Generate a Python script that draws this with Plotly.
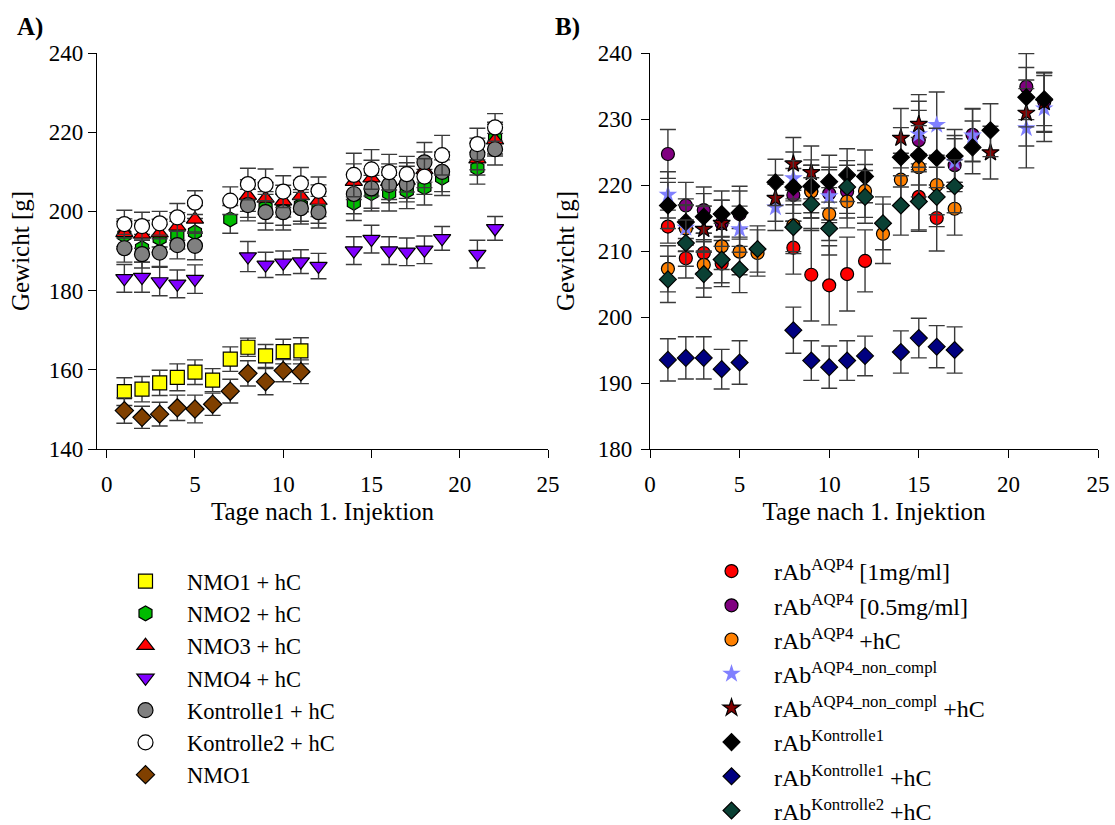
import plotly.graph_objects as go

# ---------------- Panel A data ----------------
days_nmo1 = [1, 2, 3, 4, 5, 6, 7, 8, 9, 10, 11]
nmo1_hc = [154.5, 155.1, 156.7, 158.1, 159.4, 157.4, 162.7, 165.7, 163.5, 164.6, 164.8]
nmo1_hc_err = [3.5, 3.2, 3.2, 3.4, 3.1, 2.9, 3.1, 2.3, 2.9, 3.1, 3.3]
nmo1 = [149.7, 148.0, 148.8, 150.4, 150.1, 151.3, 154.6, 159.1, 157.0, 159.8, 159.5]
nmo1_err = [3.2, 2.8, 3.0, 3.2, 3.5, 2.8, 3.0, 3.2, 3.3, 2.8, 3.0]

days_nmo2 = [1, 2, 3, 4, 5, 7, 8, 9, 10, 11, 12, 14, 15, 16, 17, 18, 19, 21, 22]
nmo2_hc = [194.0, 190.7, 193.2, 194.0, 194.7, 198.0, 202.5, 201.0, 200.5, 201.5, 201.0,
           202.2, 204.6, 204.6, 205.2, 206.1, 208.5, 210.9, 218.5]
nmo2_hc_err = [3.5, 3.5, 3.5, 3.5, 3.5, 3.5, 4.0, 4.0, 4.0, 4.0, 4.0,
               4.5, 4.5, 4.5, 4.5, 4.5, 4.5, 4.0, 4.0]

days_nmo3 = [1, 2, 3, 4, 5, 8, 9, 10, 11, 12, 14, 15, 16, 17, 18, 21, 22]
nmo3_hc = [194.6, 194.2, 194.5, 196.2, 198.0, 204.0, 203.3, 202.6, 203.9, 202.7,
           207.5, 208.4, 207.5, 207.8, 210.5, 213.2, 218.0]
nmo3_hc_err = [3.5, 3.5, 3.5, 3.5, 3.5, 4.0, 4.0, 4.0, 4.0, 4.0,
               4.5, 4.5, 4.5, 4.5, 4.5, 4.0, 4.0]

days_nmo4 = [1, 2, 3, 4, 5, 8, 9, 10, 11, 12, 14, 15, 16, 17, 18, 19, 21, 22]
nmo4_hc = [183.1, 183.4, 182.3, 181.7, 182.9, 188.6, 186.5, 187.0, 187.3, 186.2,
           190.1, 193.0, 190.1, 189.8, 190.3, 193.2, 189.2, 195.7]
nmo4_hc_err = [3.5, 3.8, 3.6, 3.5, 3.6, 3.8, 3.2, 3.0, 3.0, 3.2,
               3.5, 3.5, 3.5, 3.5, 3.5, 3.0, 3.5, 3.0]

days_k1 = [1, 2, 3, 4, 5, 8, 9, 10, 11, 12, 14, 15, 16, 17, 18, 19, 21, 22]
kontrolle1_hc = [190.7, 189.2, 189.6, 191.5, 191.3, 201.6, 199.8, 199.8, 200.8, 199.8,
                 204.4, 205.8, 206.7, 206.9, 212.4, 210.0, 214.5, 215.7]
kontrolle1_hc_err = [3.5, 3.5, 3.5, 3.5, 3.5, 4.0, 4.5, 4.5, 4.0, 4.0,
                     5.0, 5.0, 4.5, 4.5, 5.0, 5.0, 4.0, 4.0]

days_k2 = [1, 2, 3, 4, 5, 7, 8, 9, 10, 11, 12, 14, 15, 16, 17, 18, 19, 21, 22]
kontrolle2_hc = [196.8, 196.3, 197.0, 198.5, 202.2, 202.7, 206.9, 206.7, 205.0, 207.1, 205.2,
                 209.2, 210.6, 209.9, 209.4, 208.8, 214.2, 217.0, 221.2]
kontrolle2_hc_err = [3.5, 3.5, 3.0, 3.5, 3.0, 3.5, 4.0, 4.0, 4.0, 4.0, 3.5,
                     5.5, 5.0, 4.5, 4.5, 4.5, 5.0, 4.0, 3.5]

# ---------------- Panel B data ----------------
days_red = [1, 2, 3, 4, 8, 9, 10, 11, 12, 15, 16]
rab_1mg = [213.7, 208.9, 209.7, 208.1, 210.5, 206.4, 204.8, 206.5, 208.5, 218.2, 215.0]
rab_1mg_err = [2.5, 3.0, 3.0, 3.5, 4.0, 7.0, 6.0, 5.6, 4.7, 5.0, 5.0]

days_purple = [1, 2, 3, 4, 5, 8, 9, 10, 11, 15, 17, 18, 21, 22]
rab_05mg = [224.7, 216.9, 216.2, 214.2, 215.6, 218.5, 219.0, 218.7, 219.0, 226.8,
            223.0, 227.6, 234.9, 232.6]
rab_05mg_err = [3.7, 3.5, 3.5, 3.5, 3.5, 4.0, 4.0, 4.0, 4.0, 4.5, 4.0, 4.0, 5.0, 4.5]

days_orange = [1, 2, 3, 4, 5, 6, 8, 9, 10, 11, 12, 13, 14, 15, 16, 17]
rab_hc = [207.3, 213.4, 207.9, 210.7, 209.9, 209.7, 213.9, 219.0, 215.6, 217.5,
          219.1, 212.6, 220.8, 222.7, 220.0, 216.4]
rab_hc_err = [3.5, 3.5, 3.5, 3.5, 3.5, 3.5, 4.0, 4.0, 4.0, 4.0, 4.0, 4.5, 4.0, 4.5, 4.5, 4.0]

days_bstar = [1, 2, 3, 5, 7, 8, 10, 15, 16, 17, 18, 21, 22]
rab_nc = [218.5, 213.5, 213.3, 213.3, 216.6, 221.0, 218.3, 227.7, 229.1, 223.5,
          227.5, 228.6, 231.6]
rab_nc_err = [3.5, 3.5, 3.5, 3.5, 3.5, 4.0, 4.0, 5.0, 5.0, 4.0, 4.0, 6.0, 5.0]

days_rstar = [3, 4, 7, 8, 9, 14, 15, 19, 21, 22]
rab_nc_hc = [213.3, 214.2, 218.0, 223.2, 221.9, 227.1, 229.2, 224.9, 230.9, 232.5]
rab_nc_hc_err = [3.5, 3.5, 3.5, 4.0, 4.0, 4.5, 4.5, 4.0, 5.0, 4.5]

days_black = [1, 2, 3, 4, 5, 7, 8, 9, 10, 11, 12, 14, 15, 16, 17, 18, 19, 21, 22]
rab_k1 = [216.9, 214.4, 215.2, 215.6, 215.8, 220.4, 219.7, 219.8, 220.5, 221.5, 221.3,
          224.2, 224.5, 224.1, 224.4, 225.7, 228.3, 233.3, 233.0]
rab_k1_err = [3.5, 3.5, 3.5, 3.5, 4.0, 3.5, 4.0, 4.0, 4.0, 4.0, 4.0,
              4.5, 4.5, 4.5, 4.0, 4.0, 4.0, 4.5, 4.0]

days_navy = [1, 2, 3, 4, 5, 8, 9, 10, 11, 12, 14, 15, 16, 17]
rab_k1_hc = [193.5, 193.8, 193.8, 192.1, 193.1, 198.0, 193.4, 192.4, 193.4, 194.1,
             194.7, 196.8, 195.5, 195.0]
rab_k1_hc_err = [3.2, 3.2, 3.2, 3.0, 3.3, 3.5, 3.0, 3.2, 3.0, 3.0, 3.2, 3.0, 3.2, 3.5]

days_green = [1, 2, 3, 4, 5, 6, 8, 9, 10, 11, 12, 13, 14, 15, 16, 17]
rab_k2_hc = [205.7, 211.2, 206.5, 208.7, 207.2, 210.3, 213.6, 217.1, 213.4, 219.7,
             218.2, 214.2, 216.9, 217.5, 218.2, 219.8]
rab_k2_hc_err = [3.5, 3.5, 3.5, 3.5, 3.5, 3.5, 4.0, 4.0, 4.0, 4.0, 4.0, 4.0, 4.5, 4.5, 4.5, 4.0]

FONT = "Liberation Serif"
ERR_COLOR = "#3a3a3a"

fig = go.Figure()


def add(x, y, err, name, symbol, color, size, xa, ya, legend, lw=1.2):
    fig.add_trace(go.Scatter(
        x=x, y=y, mode="markers", name=name,
        xaxis=xa, yaxis=ya, legend=legend,
        marker=dict(symbol=symbol, color=color, size=size,
                    line=dict(color="black", width=lw)),
        error_y=dict(type="data", array=err, visible=True, color=ERR_COLOR,
                     thickness=1.4, width=8),
    ))


# Panel A
add(days_nmo1, nmo1_hc, nmo1_hc_err, "NMO1 + hC", "square", "#FFFF00", 14, "x", "y", "legend")
add(days_nmo2, nmo2_hc, nmo2_hc_err, "NMO2 + hC", "hexagon", "#00BB00", 15, "x", "y", "legend")
add(days_nmo3, nmo3_hc, nmo3_hc_err, "NMO3 + hC", "triangle-up", "#FF0000", 15, "x", "y", "legend")
add(days_nmo4, nmo4_hc, nmo4_hc_err, "NMO4 + hC", "triangle-down", "#8000FF", 15, "x", "y", "legend")
add(days_k1, kontrolle1_hc, kontrolle1_hc_err, "Kontrolle1 + hC", "circle", "#808080", 15, "x", "y", "legend")
add(days_k2, kontrolle2_hc, kontrolle2_hc_err, "Kontrolle2 + hC", "circle", "#FFFFFF", 15, "x", "y", "legend")
add(days_nmo1, nmo1, nmo1_err, "NMO1", "diamond", "#804000", 14, "x", "y", "legend")

# Panel B
add(days_red, rab_1mg, rab_1mg_err, "rAb<sup>AQP4</sup> [1mg/ml]", "circle", "#FF0000", 13, "x2", "y2", "legend2")
add(days_purple, rab_05mg, rab_05mg_err, "rAb<sup>AQP4</sup> [0.5mg/ml]", "circle", "#800080", 13, "x2", "y2", "legend2")
add(days_orange, rab_hc, rab_hc_err, "rAb<sup>AQP4</sup> +hC", "circle", "#FF8000", 13, "x2", "y2", "legend2")
add(days_bstar, rab_nc, rab_nc_err, "rAb<sup>AQP4_non_compl</sup>", "star", "#8080FF", 14, "x2", "y2", "legend2", lw=0)
add(days_rstar, rab_nc_hc, rab_nc_hc_err, "rAb<sup>AQP4_non_compl</sup> +hC", "star", "#800000", 13, "x2", "y2", "legend2")
add(days_black, rab_k1, rab_k1_err, "rAb<sup>Kontrolle1</sup>", "diamond", "#000000", 13, "x2", "y2", "legend2")
add(days_navy, rab_k1_hc, rab_k1_hc_err, "rAb<sup>Kontrolle1</sup> +hC", "diamond", "#000080", 13, "x2", "y2", "legend2")
add(days_green, rab_k2_hc, rab_k2_hc_err, "rAb<sup>Kontrolle2</sup> +hC", "diamond", "#0A4034", 13, "x2", "y2", "legend2")

W, H = 1115, 825
axis_common = dict(showline=True, linecolor="black", linewidth=1.2, ticks="outside",
                   ticklen=8, tickwidth=1.2, tickcolor="black", showgrid=False,
                   zeroline=False, tickfont=dict(family=FONT, size=23, color="black"))

fig.update_layout(
    width=W, height=H, margin=dict(l=0, r=0, t=0, b=0, autoexpand=False),
    paper_bgcolor="white", plot_bgcolor="white",
    font=dict(family=FONT, color="black"),
    xaxis=dict(domain=[97 / W, 548 / W], range=[-0.55, 25], tickvals=[0, 5, 10, 15, 20, 25],
               anchor="y", ticklabelstandoff=6,
               title=dict(text="Tage nach 1. Injektion", font=dict(family=FONT, size=25), standoff=6),
               **axis_common),
    yaxis=dict(domain=[1 - 449 / H, 1 - 53 / H], range=[140, 240], tickvals=[140, 160, 180, 200, 220, 240],
               anchor="x", ticklabelstandoff=0,
               title=dict(text="Gewicht [g]", font=dict(family=FONT, size=25), standoff=12),
               **axis_common),
    xaxis2=dict(domain=[650 / W, 1098 / W], range=[0, 25], tickvals=[0, 5, 10, 15, 20, 25],
                anchor="y2", ticklabelstandoff=6,
                title=dict(text="Tage nach 1. Injektion", font=dict(family=FONT, size=25), standoff=6),
                **axis_common),
    yaxis2=dict(domain=[1 - 449 / H, 1 - 53 / H], range=[180, 240], tickvals=[180, 190, 200, 210, 220, 230, 240],
                anchor="x2", ticklabelstandoff=4,
                title=dict(text="Gewicht [g]", font=dict(family=FONT, size=25), standoff=16),
                **axis_common),
    legend=dict(x=104 / W, y=1 - 560 / H, xanchor="left", yanchor="top",
                font=dict(family=FONT, size=22.5, color="black"), itemwidth=73,
                bgcolor="rgba(0,0,0,0)"),
    legend2=dict(x=689 / W, y=1 - 549 / H, xanchor="left", yanchor="top",
                 font=dict(family=FONT, size=24, color="black"), itemwidth=75,
                 bgcolor="rgba(0,0,0,0)"),
    showlegend=True,
    annotations=[
        dict(text="<b>A)</b>", x=30 / W, y=1 - 27 / H, xref="paper", yref="paper",
             xanchor="center", yanchor="middle",
             showarrow=False, font=dict(family=FONT, size=25, color="black")),
        dict(text="<b>B)</b>", x=567 / W, y=1 - 27 / H, xref="paper", yref="paper",
             xanchor="center", yanchor="middle",
             showarrow=False, font=dict(family=FONT, size=25, color="black")),
    ],
)

fig.write_html("out.html")
